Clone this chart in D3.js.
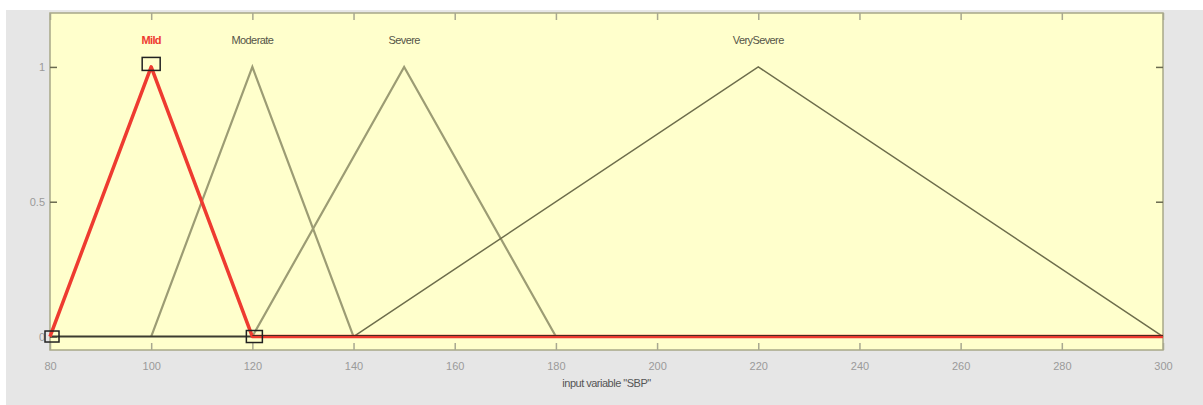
<!DOCTYPE html>
<html>
<head>
<meta charset="utf-8">
<script src="https://cdn.jsdelivr.net/npm/d3@7"></script>
<style>
  body { margin: 0; background: #fff; }
  svg text { font-family: "Liberation Sans", Arial, sans-serif; }
</style>
</head>
<body>
<div id="chart-area"></div>
<script>
// membership functions (trimf) for input variable "SBP"
const mfNames = ['Mild', 'Moderate', 'Severe', 'VerySevere']
const mfA = [80, 100, 120, 140]
const mfB = [100, 120, 150, 220]
const mfC = [120, 140, 180, 300]
const selected = 0

const xTicks = [80, 100, 120, 140, 160, 180, 200, 220, 240, 260, 280, 300]
const yTicks = [0, 0.5, 1]
const xDomain = [80, 300]
const yDomain = [-0.05, 1.2]

const W = 1203
const H = 405
const MARGIN = { LEFT: 50, RIGHT: 40, TOP: 13, BOTTOM: 55 }
const WIDTH = W - MARGIN.LEFT - MARGIN.RIGHT
const HEIGHT = H - MARGIN.TOP - MARGIN.BOTTOM

const svg = d3.select('#chart-area').append('svg')
  .attr('width', W)
  .attr('height', H)

// figure background
svg.append('rect')
  .attr('x', 6).attr('y', 10)
  .attr('width', W - 6).attr('height', H - 10)
  .attr('fill', '#e6e6e6')

const g = svg.append('g')
  .attr('transform', `translate(${MARGIN.LEFT}, ${MARGIN.TOP})`)

const x = d3.scaleLinear().domain(xDomain).range([0, WIDTH])
const y = d3.scaleLinear().domain(yDomain).range([HEIGHT, 0])

// axes box
g.append('rect')
  .attr('width', WIDTH).attr('height', HEIGHT)
  .attr('fill', '#ffffcc')
  .attr('stroke', '#a8a888')
  .attr('stroke-width', 1.5)

// ticks (inside, on all four sides)
const tickCol = '#a8a890'
const xb = g.append('g').attr('transform', `translate(0, ${HEIGHT})`)
  .call(d3.axisBottom(x).tickValues(xTicks).tickSizeInner(-7).tickSizeOuter(0).tickPadding(12))
const xt = g.append('g')
  .call(d3.axisTop(x).tickValues(xTicks).tickSizeInner(-7).tickSizeOuter(0).tickFormat(''))
const yl = g.append('g')
  .call(d3.axisLeft(y).tickValues(yTicks).tickSizeInner(-7).tickSizeOuter(0).tickPadding(5).tickFormat(d3.format('')))
const yr = g.append('g').attr('transform', `translate(${WIDTH}, 0)`)
  .call(d3.axisRight(y).tickValues(yTicks).tickSizeInner(-7).tickSizeOuter(0).tickFormat(''))
;[xb, xt, yl, yr].forEach(a => {
  a.select('.domain').remove()
  a.selectAll('line').attr('stroke', tickCol).attr('stroke-width', 1.5)
  a.selectAll('text').attr('fill', '#9a9a9a').attr('font-size', 11)
})
yl.selectAll('line').attr('stroke', '#6a6a50')
yr.selectAll('line').attr('stroke', '#6a6a50')

// MF polylines over the whole range
const mfPoints = i => [[xDomain[0], 0], [mfA[i], 0], [mfB[i], 1], [mfC[i], 0], [xDomain[1], 0]]
const line = d3.line().x(d => x(d[0])).y(d => y(d[1]))

mfNames.forEach((name, i) => {
  if (i === selected) return
  g.append('path')
    .attr('d', line(mfPoints(i).slice(1, 4)))
    .attr('fill', 'none')
    .attr('stroke', i === 3 ? '#6e6e4c' : '#9c9c74')
    .attr('stroke-width', i === 3 ? 1.5 : 2.2)
})

// zero baseline from the other MFs
g.append('line')
  .attr('x1', x(xDomain[0])).attr('x2', x(mfC[selected]))
  .attr('y1', y(0)).attr('y2', y(0))
  .attr('stroke', '#3c3c30')
  .attr('stroke-width', 2)

// selected MF in red, thick
g.append('path')
  .attr('d', line(mfPoints(selected).slice(1)))
  .attr('fill', 'none')
  .attr('stroke', '#ee3b30')
  .attr('stroke-width', 3.5)
  .attr('stroke-linejoin', 'round')

// thin dark line on top of the red zero part
g.append('line')
  .attr('x1', x(mfC[selected])).attr('x2', x(xDomain[1]))
  .attr('y1', y(0) - 1).attr('y2', y(0) - 1)
  .attr('stroke', '#4a2a22')
  .attr('stroke-width', 1)

// vertex markers of selected MF
const sq = [[mfA[selected], 0, 14, 11], [mfB[selected], 1, 18, 13], [mfC[selected], 0, 16, 12]]
g.selectAll('.vtx').data(sq).enter().append('rect')
  .attr('class', 'vtx')
  .attr('x', d => x(d[0]) - d[2] / 2 + (d[1] === 1 ? 0 : 2))
  .attr('y', d => y(d[1]) - d[3] / 2 - (d[1] === 1 ? 3 : 0))
  .attr('width', d => d[2])
  .attr('height', d => d[3])
  .attr('fill', 'none')
  .attr('stroke', '#222')
  .attr('stroke-width', 1.5)

// MF names above peaks
g.selectAll('.mfname').data(mfNames).enter().append('text')
  .attr('class', 'mfname')
  .attr('x', (d, i) => x(mfB[i]))
  .attr('y', y(1.1) + 4)
  .attr('text-anchor', 'middle')
  .attr('font-size', 11)
  .attr('letter-spacing', -0.6)
  .attr('fill', (d, i) => i === selected ? '#ee3b30' : '#555548')
  .attr('font-weight', (d, i) => i === selected ? 'bold' : 'normal')
  .text(d => d)

// x label
g.append('text')
  .attr('x', WIDTH / 2)
  .attr('y', HEIGHT + 37)
  .attr('text-anchor', 'middle')
  .attr('font-size', 11)
  .attr('letter-spacing', -0.5)
  .attr('fill', '#555')
  .text('input variable "SBP"')
</script>
</body>
</html>
